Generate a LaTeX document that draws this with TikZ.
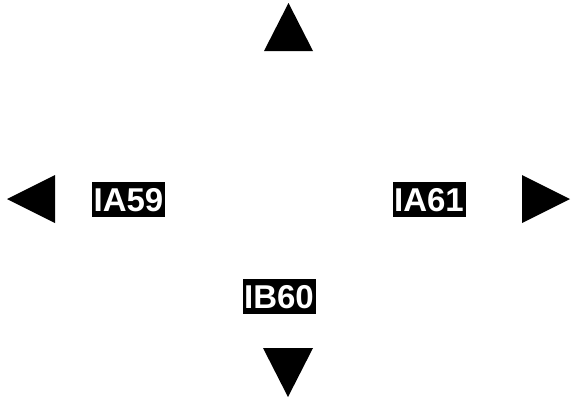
\documentclass[tikz,border=0pt]{standalone}
\usepackage{fontspec}
\setmainfont{Liberation Sans}
\begin{document}
\begin{tikzpicture}[x=1pt,y=-1pt,
  lbl/.style={fill=black,text=white,font=\fontsize{33}{33}\selectfont\bfseries,
    inner sep=0pt,minimum width=73pt,minimum height=35pt,text height=24pt,text depth=0pt},
  tri/.style={fill=black}]
\useasboundingbox (0,0) rectangle (573,399);
\fill[tri] (288.5,3) -- (313,51) -- (264,51) -- cycle;
\fill[tri] (7,199) -- (55,175) -- (55,223) -- cycle;
\fill[tri] (570,199) -- (522,175) -- (522,223) -- cycle;
\fill[tri] (288,397) -- (263,348) -- (313,348) -- cycle;
\node[lbl] (ia59) at (128.5,199.5) {IA59};
\node[lbl] (ia61) at (429,199.5) {IA61};
\node[lbl] (ib60) at (279,296) {IB60};
\end{tikzpicture}
\end{document}
